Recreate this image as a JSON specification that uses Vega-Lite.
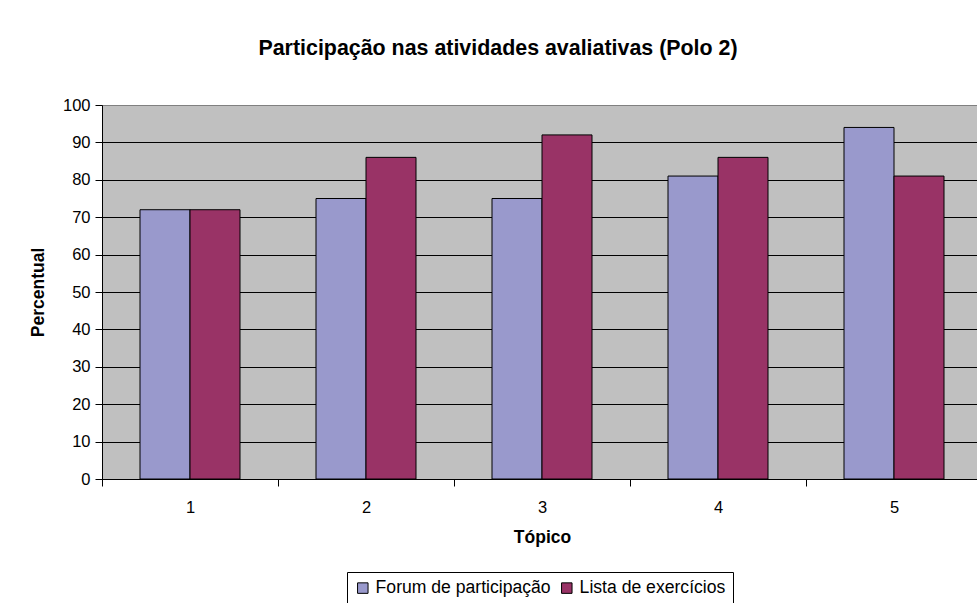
{
  "$schema": "https://vega.github.io/schema/vega-lite/v6.json",
  "autosize": "none",
  "width": 880,
  "height": 374,
  "padding": {"left": 102, "top": 105, "right": 0, "bottom": 124},
  "background": "white",
  "title": {
    "text": "Participação nas atividades avaliativas (Polo 2)",
    "font": "Liberation Sans",
    "fontSize": 21.4,
    "fontWeight": "bold",
    "color": "#000000",
    "anchor": "middle",
    "dx": -44,
    "offset": 38
  },
  "data": {
    "values": [
      {"topico": "1", "serie": "Forum de participação", "valor": 72},
      {"topico": "1", "serie": "Lista de exercícios", "valor": 72},
      {"topico": "2", "serie": "Forum de participação", "valor": 75},
      {"topico": "2", "serie": "Lista de exercícios", "valor": 86},
      {"topico": "3", "serie": "Forum de participação", "valor": 75},
      {"topico": "3", "serie": "Lista de exercícios", "valor": 92},
      {"topico": "4", "serie": "Forum de participação", "valor": 81},
      {"topico": "4", "serie": "Lista de exercícios", "valor": 86},
      {"topico": "5", "serie": "Forum de participação", "valor": 94},
      {"topico": "5", "serie": "Lista de exercícios", "valor": 81}
    ]
  },
  "mark": {"type": "bar", "stroke": "#000000", "strokeWidth": 1},
  "encoding": {
    "x": {
      "field": "topico",
      "type": "nominal",
      "title": "Tópico",
      "scale": {"paddingInner": 0, "paddingOuter": 0},
      "axis": {
        "labelAngle": 0,
        "tickBand": "extent",
        "tickSize": 7,
        "tickColor": "#000000",
        "domainColor": "#000000",
        "labelPadding": 13,
        "titlePadding": 13
      }
    },
    "xOffset": {
      "field": "serie",
      "type": "nominal",
      "scale": {"paddingInner": 0, "paddingOuter": 0.76}
    },
    "y": {
      "field": "valor",
      "type": "quantitative",
      "title": "Percentual",
      "scale": {"domain": [0, 100], "nice": false},
      "axis": {
        "values": [0, 10, 20, 30, 40, 50, 60, 70, 80, 90, 100],
        "tickSize": 7,
        "tickColor": "#000000",
        "domainColor": "#000000",
        "labelPadding": 5,
        "titlePadding": 15,
        "grid": true,
        "gridColor": {"condition": {"test": "datum.value == 100", "value": "#808080"}, "value": "#000000"},
        "gridWidth": 1
      }
    },
    "color": {
      "field": "serie",
      "type": "nominal",
      "scale": {"domain": ["Forum de participação", "Lista de exercícios"], "range": ["#9999CC", "#993366"]},
      "legend": {
        "title": null,
        "orient": "none",
        "direction": "horizontal",
        "legendX": 245,
        "legendY": 467,
        "strokeColor": "#000000",
        "padding": 7,
        "symbolType": "square",
        "symbolSize": 110,
        "symbolStrokeColor": "#000000",
        "symbolStrokeWidth": 1,
        "symbolOpacity": 1,
        "labelFontSize": 17.6,
        "labelLimit": 400,
        "labelOffset": 4,
        "columnPadding": 7
      }
    }
  },
  "config": {
    "font": "Liberation Sans",
    "view": {"fill": "#C0C0C0", "stroke": "#808080", "strokeWidth": 1},
    "axis": {
      "labelFont": "Liberation Sans",
      "labelFontSize": 16.5,
      "labelColor": "#000000",
      "titleFont": "Liberation Sans",
      "titleFontSize": 17.5,
      "titleFontWeight": "bold",
      "titleColor": "#000000",
      "grid": false
    },
    "legend": {"labelFont": "Liberation Sans", "labelColor": "#000000"}
  }
}
